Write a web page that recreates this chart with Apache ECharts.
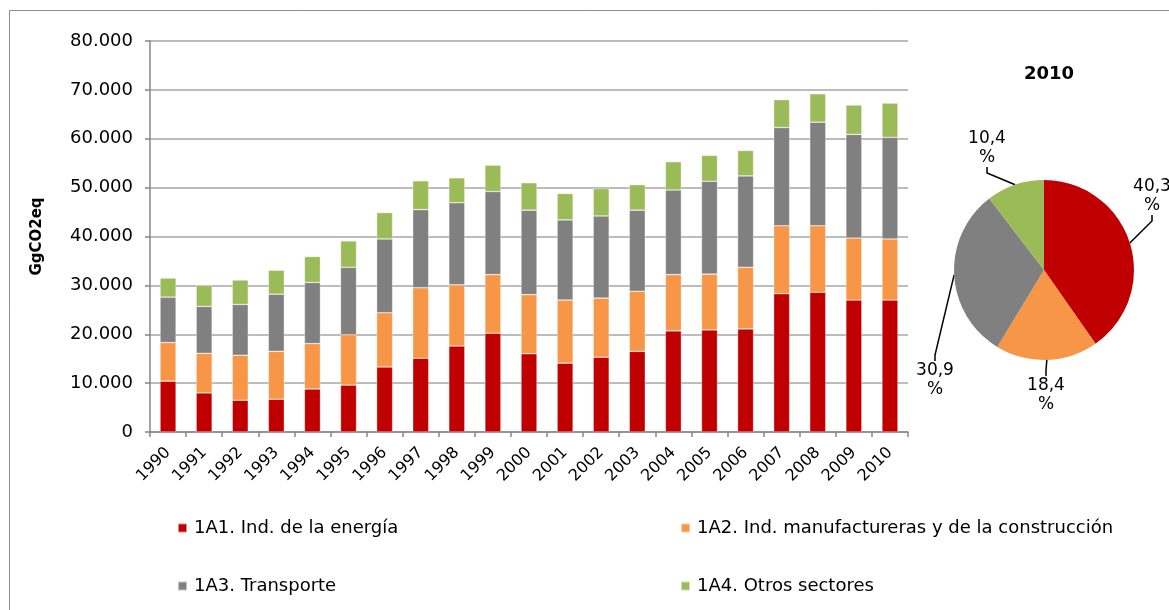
<!DOCTYPE html>
<html><head><meta charset="utf-8">
<script src="https://cdn.jsdelivr.net/npm/echarts@6/dist/echarts.min.js"></script>
<style>html,body{margin:0;padding:0;background:#fff}#c{width:1169px;height:610px}</style>
</head><body><div id="c"></div>
<script>
const years = ['1990','1991','1992','1993','1994','1995','1996','1997','1998','1999','2000','2001','2002','2003','2004','2005','2006','2007','2008','2009','2010'];
const energia = [10400,8000,6500,6700,8800,9600,13300,15100,17600,20200,16000,14100,15300,16500,20700,20900,21100,28300,28600,27000,27000];
const manufactureras = [7900,8100,9200,9800,9300,10300,11100,14400,12500,12000,12100,12900,12100,12300,11500,11400,12600,13900,13600,12700,12500];
const transporte = [9300,9600,10400,11700,12500,13800,15100,16000,16800,17000,17300,16400,16800,16600,17300,19000,18700,20100,21200,21200,20800];
const otros = [3900,4300,5000,4900,5300,5400,5400,5900,5100,5400,5600,5400,5600,5200,5800,5300,5200,5700,5800,6000,7000];
const seriesNames = ['1A1. Ind. de la energía','1A2. Ind. manufactureras y de la construcción','1A3. Transporte','1A4. Otros sectores'];
const colors = ['#C00000','#F79646','#808080','#9BBB59'];
const pieTitle = '2010';
const pieShares = [40.3,18.4,30.9,10.4];

// layout (label centres for the pie, legend anchors)
const pieLabelPos = [[1152,196],[1046,395],[935,380],[987,148]];
const legendPos = [[177,519],[680,519],[177,577],[680,577]];

const FONT = 'DejaVu Sans';
const chart = echarts.init(document.getElementById('c'), null, {renderer:'canvas'});
const barData = [energia, manufactureras, transporte, otros];
const barSeries = barData.map((d,i)=>({
  name: seriesNames[i], type:'bar', stack:'total', data:d, barWidth:16,
  itemStyle:{color:colors[i], borderColor:'rgba(255,255,255,0.55)', borderWidth:0.6},
  emphasis:{disabled:true}
}));
const legends = seriesNames.map((n,i)=>({
  data:[n], left:legendPos[i][0], top:legendPos[i][1], padding:0, icon:'rect', itemWidth:9, itemHeight:9,
  textStyle:{fontFamily:FONT, fontSize:18, color:'#000', padding:[0,0,0,2]}, selectedMode:false
}));
chart.setOption({
  animation:false,
  color:colors,
  title:{text:pieTitle, left:1044, top:60, textAlign:'center', textStyle:{fontFamily:FONT, fontSize:18, fontWeight:'bold', color:'#000'}},
  graphic:[{type:'rect', shape:{x:9.5,y:10.5,width:1300,height:700}, style:{fill:'none', stroke:'#8c8c8c', lineWidth:1}, silent:true, z:-10}],
  legend:legends,
  grid:{left:150, right:261, top:41, bottom:178},
  xAxis:{type:'category', data:years, boundaryGap:true,
    axisLine:{lineStyle:{color:'#868686', width:1.5}},
    axisTick:{show:true, length:5, alignWithLabel:false, lineStyle:{color:'#868686', width:1.5}},
    axisLabel:{rotate:45, margin:18, fontFamily:FONT, fontSize:16, color:'#000', interval:0}},
  yAxis:{type:'value', min:0, max:80000, interval:10000,
    name:'GgCO2eq', nameLocation:'middle', nameRotate:90, nameGap:105,
    nameTextStyle:{fontFamily:FONT, fontSize:15, fontWeight:'bold', color:'#000'},
    axisLine:{show:true, lineStyle:{color:'#868686', width:1.5}},
    axisTick:{show:true, length:5, lineStyle:{color:'#868686', width:1.5}},
    splitLine:{lineStyle:{color:'#a6a6a6', width:1.5}},
    axisLabel:{margin:17, fontFamily:FONT, fontSize:18, color:'#000',
      formatter:v=>v===0?'0':String(v).replace(/\B(?=(\d{3})+(?!\d))/g,'.')}},
  series:barSeries.concat([{
    type:'pie', center:[1044,270], radius:90, startAngle:90, clockwise:true,
    data:pieShares.map((v,i)=>({value:v, name:seriesNames[i], itemStyle:{color:colors[i]}})),
    label:{show:true, position:'outside', fontFamily:FONT, fontSize:17, color:'#000', align:'center', lineHeight:19,
      overflow:'none', width:60, bleedMargin:0,
      formatter:p=>p.value.toFixed(1).replace('.',',')+'\n%'},
    labelLine:{show:true, length:20, length2:6, lineStyle:{color:'#000', width:1.5}},
    labelLayout:p=>{const q=pieLabelPos[p.dataIndex]; return {x:q[0], y:q[1], align:'center', verticalAlign:'middle'};},
    emphasis:{disabled:true}
  }])
});
</script></body></html>
